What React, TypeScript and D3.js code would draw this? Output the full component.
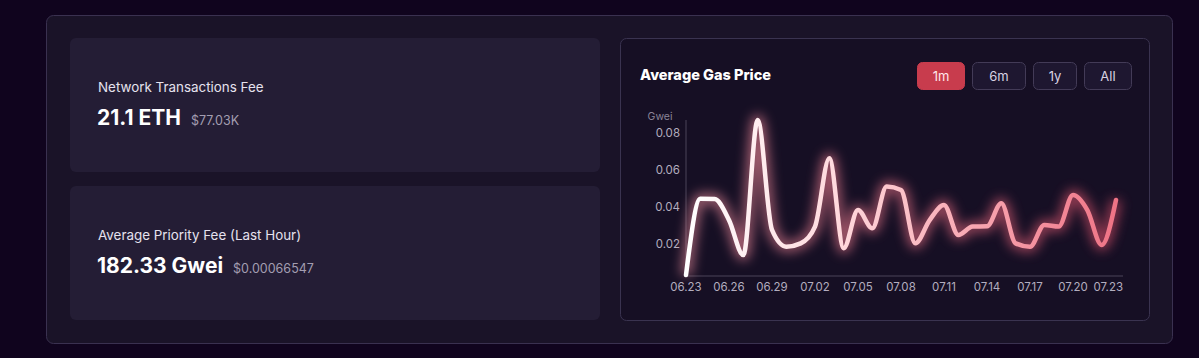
import React from "react";
import * as d3 from "d3";

const startDate = new Date(2023, 5, 23);
const gasValues = [
  0.0035, 0.0445, 0.0443, 0.033, 0.0142, 0.0868, 0.0277, 0.0187, 0.0205, 0.0295,
  0.0662, 0.0179, 0.0384, 0.0286, 0.051, 0.0492, 0.0205, 0.033, 0.0411, 0.025,
  0.0295, 0.0297, 0.042, 0.0205, 0.0187, 0.0304, 0.0295, 0.0465, 0.0384, 0.0196,
  0.0438,
];
const yTicks = [0.02, 0.04, 0.06, 0.08];
const xTickDays = [0, 3, 6, 9, 12, 15, 18, 21, 24, 27, 30];
const ranges = ["1m", "6m", "1y", "All"];
const stats = [
  { label: "Network Transactions Fee", value: "21.1 ETH", sub: "$77.03K" },
  { label: "Average Priority Fee (Last Hour)", value: "182.33 Gwei", sub: "$0.00066547" },
];

const FONT = "Inter, 'Open Sans', sans-serif";

export default function App() {
  const data = gasValues.map((v, i) => ({ date: d3.timeDay.offset(startDate, i), v }));
  const x = d3
    .scaleTime()
    .domain([startDate, d3.timeDay.offset(startDate, 30)])
    .range([686, 1116]);
  const y = d3
    .scaleLinear()
    .domain(d3.extent(gasValues) as [number, number])
    .range([275, 120]);
  const line = d3
    .line<{ date: Date; v: number }>()
    .x((d) => x(d.date))
    .y((d) => y(d.v))
    .curve(d3.curveMonotoneX);
  const path = line(data) || "";
  const fmt = d3.timeFormat("%m.%d");

  const btnX = [917, 972, 1033, 1084];
  const btnW = [47, 53, 43, 47];

  return (
    <div style={{ position: "fixed", left: 0, top: 0, width: 1199, height: 358 }}>
      <svg width={1199} height={358} style={{ display: "block" }} fontFamily={FONT}>
        <defs>
          <linearGradient id="lg" gradientUnits="userSpaceOnUse" x1={686} x2={1117} y1={0} y2={0}>
            <stop offset="0" stopColor="#ffffff" />
            <stop offset="0.35" stopColor="#ffd9dd" />
            <stop offset="0.7" stopColor="#f7a2ad" />
            <stop offset="1" stopColor="#ef7385" />
          </linearGradient>
          <linearGradient id="glowg" gradientUnits="userSpaceOnUse" x1={686} x2={1117} y1={0} y2={0}>
            <stop offset="0" stopColor="#ff9aa8" />
            <stop offset="1" stopColor="#ef5670" />
          </linearGradient>
          <filter id="blur" x="-10%" y="-30%" width="120%" height="160%">
            <feGaussianBlur stdDeviation="6" />
          </filter>
        </defs>
        <rect x={0} y={0} width={1199} height={358} fill="#10041e" />
        <rect x={46.5} y={15.5} width={1126} height={328} rx={7} fill="#1a1328" stroke="#3a3150" />
        {stats.map((s, i) => {
          const top = 38 + i * 148;
          return (
            <g key={s.label}>
              <rect x={70} y={top} width={530} height={134} rx={6} fill="#241d35" />
              <text x={98} y={top + 54} fill="#e6e2ee" fontSize={13.4}>
                {s.label}
              </text>
              <text x={97} y={top + 87} fill="#ffffff" fontSize={21} fontWeight={700}>
                {s.value}
                <tspan dx={10} fontSize={12.5} fontWeight={400} fill="#a39db1">
                  {s.sub}
                </tspan>
              </text>
            </g>
          );
        })}
        <rect x={620.5} y={38.5} width={529} height={282} rx={6} fill="#160f24" stroke="#3a3350" />
        <text x={640} y={80} fill="#ffffff" fontSize={14.5} fontWeight={800}>
          Average Gas Price
        </text>
        {ranges.map((r, i) => (
          <g key={r}>
            <rect
              x={btnX[i] + 0.5}
              y={62.5}
              width={btnW[i]}
              height={27}
              rx={5}
              fill={i === 0 ? "#c83c4d" : "#1e1730"}
              stroke={i === 0 ? "#c83c4d" : "#433b57"}
            />
            <text
              x={btnX[i] + btnW[i] / 2 + 0.5}
              y={80.5}
              textAnchor="middle"
              fill={i === 0 ? "#ffe6ea" : "#d8d3e2"}
              fontSize={13}
            >
              {r}
            </text>
          </g>
        ))}
        <line x1={686} x2={686} y1={120} y2={276} stroke="#4a4458" />
        <line x1={686} x2={1123} y1={276} y2={276} stroke="#4a4458" />
        <text x={660} y={120} textAnchor="middle" fill="#8b8598" fontSize={10.5}>
          Gwei
        </text>
        {yTicks.map((t) => (
          <text key={t} x={680} y={y(t) + 4} textAnchor="end" fill="#b3adbf" fontSize={11.5}>
            {t.toFixed(2)}
          </text>
        ))}
        {xTickDays.map((dd, i) => {
          const dt = d3.timeDay.offset(startDate, dd);
          const last = i === xTickDays.length - 1;
          return (
            <text
              key={dd}
              x={last ? 1123 : x(dt)}
              y={291}
              textAnchor={last ? "end" : "middle"}
              fill="#b3adbf"
              fontSize={11.5}
            >
              {fmt(dt)}
            </text>
          );
        })}
        <path d={path} fill="none" stroke="url(#glowg)" strokeWidth={11} opacity={0.6} filter="url(#blur)" />
        <path d={path} fill="none" stroke="url(#lg)" strokeWidth={4.5} strokeLinecap="round" strokeLinejoin="round" />
      </svg>
    </div>
  );
}
